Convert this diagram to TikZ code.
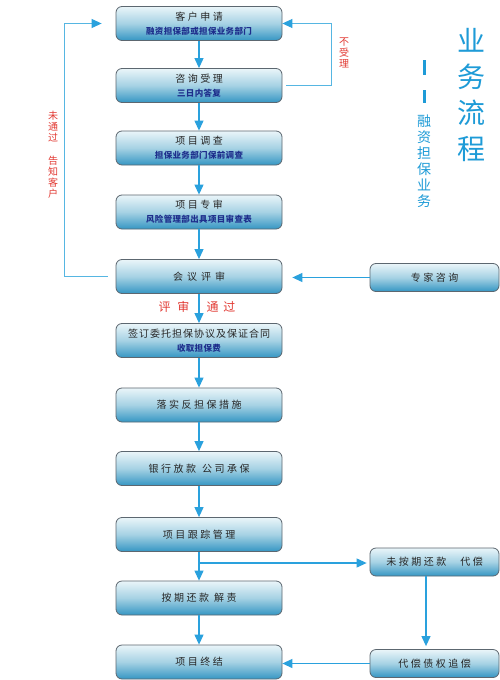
\documentclass[tikz,border=0pt]{standalone}
\usepackage{fontspec}
\usetikzlibrary{arrows.meta}
\newfontfamily\cjk{Noto Sans CJK SC}
\newfontfamily\cjkmain[LetterSpace=25]{Noto Sans CJK SC}
\newfontfamily\cjkwide[LetterSpace=40]{Noto Sans CJK SC}
\newfontfamily\cjknarrow[LetterSpace=10]{Noto Sans CJK SC}
\newfontfamily\cjksub[LetterSpace=4]{Noto Sans CJK SC}
\definecolor{boxline}{HTML}{5C6770}
\definecolor{boxtop}{HTML}{EAF5F9}
\definecolor{boxmid}{HTML}{A6D2E4}
\definecolor{boxbot}{HTML}{3596C3}
\definecolor{arr}{HTML}{2AA1DD}
\definecolor{loopc}{HTML}{56B6E2}
\definecolor{redtxt}{HTML}{E23A33}
\definecolor{subtxt}{HTML}{1E2E8C}
\definecolor{titleblue}{HTML}{1E9BD7}
\newcommand\subf{\fontsize{8.5}{10}\selectfont\cjksub\bfseries\color{subtxt}}
\begin{document}
\begin{tikzpicture}[x=1pt,y=-1pt,
  mainbox/.style={rectangle, rounded corners=6pt, draw=boxline, line width=0.8pt,
    top color=boxtop, bottom color=boxbot, middle color=boxmid,
    minimum width=166pt, minimum height=34pt, align=center, inner sep=0pt,
    text=black!85, font=\fontsize{10}{14}\selectfont\cjkmain},
  sidebox/.style={mainbox, minimum width=129pt, minimum height=28pt},
  flow/.style={draw=arr, line width=1.1pt, -{Triangle[width=9pt,length=10pt]}},
  backflow/.style={draw=loopc, line width=1pt, -{Triangle[width=9pt,length=10pt]}, arrows={-{Triangle[width=9pt,length=10pt,color=arr]}}},
  vred/.style={align=center, inner sep=0pt, text=redtxt, font=\fontsize{10}{11}\selectfont\cjk}
]
\fill[white] (0,0) rectangle (500,680);
\useasboundingbox (0,0) rectangle (500,680);

\node[mainbox] (b1) at (199,23.5) {客户申请\\{\subf 融资担保部或担保业务部门}};
\node[mainbox] (b2) at (199,85.5) {咨询受理\\{\subf 三日内答复}};
\node[mainbox] (b3) at (199,148) {项目调查\\{\subf 担保业务部门保前调查}};
\node[mainbox] (b4) at (199,212) {项目专审\\{\subf 风险管理部出具项目审查表}};
\node[mainbox, font=\fontsize{10}{14}\selectfont\cjkwide] (b5) at (199,276.5) {会议评审};
\node[mainbox, font=\fontsize{10}{14}\selectfont\cjknarrow] (b6) at (199,340.5) {签订委托担保协议及保证合同\\{\subf 收取担保费}};
\node[mainbox] (b7) at (199,405) {落实反担保措施};
\node[mainbox] (b8) at (199,468.5) {银行放款\hspace{6pt}公司承保};
\node[mainbox] (b9) at (199,534.5) {项目跟踪管理};
\node[mainbox] (b10) at (199,598) {按期还款\hspace{5pt}解责};
\node[mainbox] (b11) at (199,662) {项目终结};

\node[sidebox] (s1) at (434.5,277.5) {专家咨询};
\node[sidebox] (s2) at (434.5,562) {未按期还款\hspace{14pt}代偿};
\node[sidebox] (s3) at (434.5,663.5) {代偿债权追偿};

% main flow
\draw[flow] (b1) -- (b2);
\draw[flow] (b2) -- (b3);
\draw[flow] (b3) -- (b4);
\draw[flow] (b4) -- (b5);
\draw[flow] (b5) -- (b6);
\draw[flow] (b6) -- (b7);
\draw[flow] (b7) -- (b8);
\draw[flow] (b8) -- (b9);
\draw[flow] (b9) -- (b10);
\draw[flow] (b10) -- (b11);

% branch
\coordinate (br) at (199,563);
\draw[flow, shorten >=3pt] (br) -- (br -| s2.west);
\draw[flow, shorten >=3pt] ([xshift=-8.5pt]s2.south) -- ([xshift=-8.5pt]s3.north);
\draw[flow] (s3.west) -- (s3.west -| b11.east);
\draw[flow, shorten >=10pt] (s1.west) -- (s1.west -| b5.east);

% loops
\coordinate (L) at (64,0);
\coordinate (R) at (331,0);
\draw[draw=loopc, line width=1pt, -{Triangle[width=9pt,length=10pt,color=arr]}]
  ([xshift=-8pt]b5.west) -| (L |- b1.west) -- ([xshift=-14pt]b1.west);
\draw[draw=loopc, line width=1pt, -{Triangle[width=9pt,length=10pt,color=arr]}]
  ([xshift=4pt]b2.east) -| (R |- b1.east) -- (b1.east);

% labels
\node[vred] (t1) at (53,155) {未\\通\\过\\[12pt]告\\知\\客\\户};
\node[vred] (t2) at (344,52.5) {不\\受\\理};
\node[inner sep=0pt, text=redtxt, font=\fontsize{12}{12}\selectfont\cjk] (t3) at (174,307) {评\hspace{7pt}审};
\node[inner sep=0pt, text=redtxt, font=\fontsize{12}{12}\selectfont\cjk] (t4) at (221,307) {通\hspace{5pt}过};

% title
\node[align=center, inner sep=0pt, text=titleblue, font=\fontsize{28}{36}\selectfont\cjk] (title) at (471,95) {业\\务\\流\\程};
\node[align=center, inner sep=0pt, text=titleblue, font=\fontsize{14}{16}\selectfont\cjk] (subtitle) at (424,161.5) {融\\资\\担\\保\\业\\务};
\draw[titleblue, line width=3pt] (424,60) -- (424,75);
\draw[titleblue, line width=3pt] (424,90) -- (424,103);
\end{tikzpicture}
\end{document}
